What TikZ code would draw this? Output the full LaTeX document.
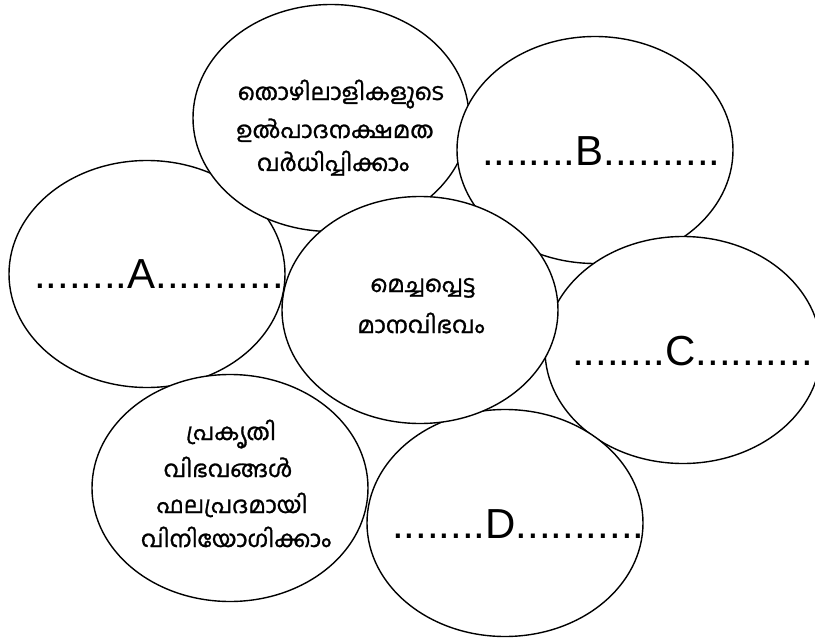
\documentclass[tikz,border=0pt]{standalone}
\usepackage{fontspec}
\usetikzlibrary{shapes.geometric}
\newfontfamily\latinfont{Liberation Sans}
\newfontfamily\malfont[Script=Malayalam,FakeBold=1.2]{Hind Kochi}
\begin{document}
\begin{tikzpicture}[x=1pt,y=-1pt,
  bubble/.style={ellipse, draw, line width=1.4pt, fill=white, minimum width=276pt, minimum height=227pt, inner sep=0pt},
  blank/.style={font=\latinfont\fontsize{42}{42}\selectfont, inner sep=0pt, anchor=base west},
  mtext/.style={font=\malfont\fontsize{23}{23}\selectfont, inner sep=0pt, anchor=base}]
\useasboundingbox (0,0) rectangle (815,642);
% ellipses, back to front
\node[bubble] (ea) at (147,274) {};
\node[bubble] (et) at (331,118) {};
\node[bubble] (eb) at (595,150) {};
\node[bubble] (ec) at (683,350) {};
\node[bubble] (ee) at (230,488) {};
\node[bubble] (ed) at (505,523) {};
\node[bubble] (em) at (420,310) {};
% blanks
\node[blank] (la) at (34,288) {........A...........};
\node[blank] (lb) at (482,165) {........B..........};
\node[blank] (lc) at (572,365) {........C..........};
\node[blank] (ld) at (392,538) {........D...........};
% Malayalam texts
\node[mtext] (t1) at (341,100) {തൊഴിലാളികളുടെ};
\node[mtext] (t2) at (335,138) {ഉൽപാദനക്ഷമത};
\node[mtext] (t3) at (333,171) {വർധിപ്പിക്കാം};
\node[mtext] (m1) at (423,292) {മെച്ചപ്പെട്ട};
\node[mtext] (m2) at (421,333) {മാനവിഭവം};
\node[mtext] (e1) at (231,440) {പ്രകൃതി};
\node[mtext] (e2) at (228,477) {വിഭവങ്ങൾ};
\node[mtext] (e3) at (232,513) {ഫലപ്രദമായി};
\node[mtext] (e4) at (236,547) {വിനിയോഗിക്കാം};
\end{tikzpicture}
\end{document}
